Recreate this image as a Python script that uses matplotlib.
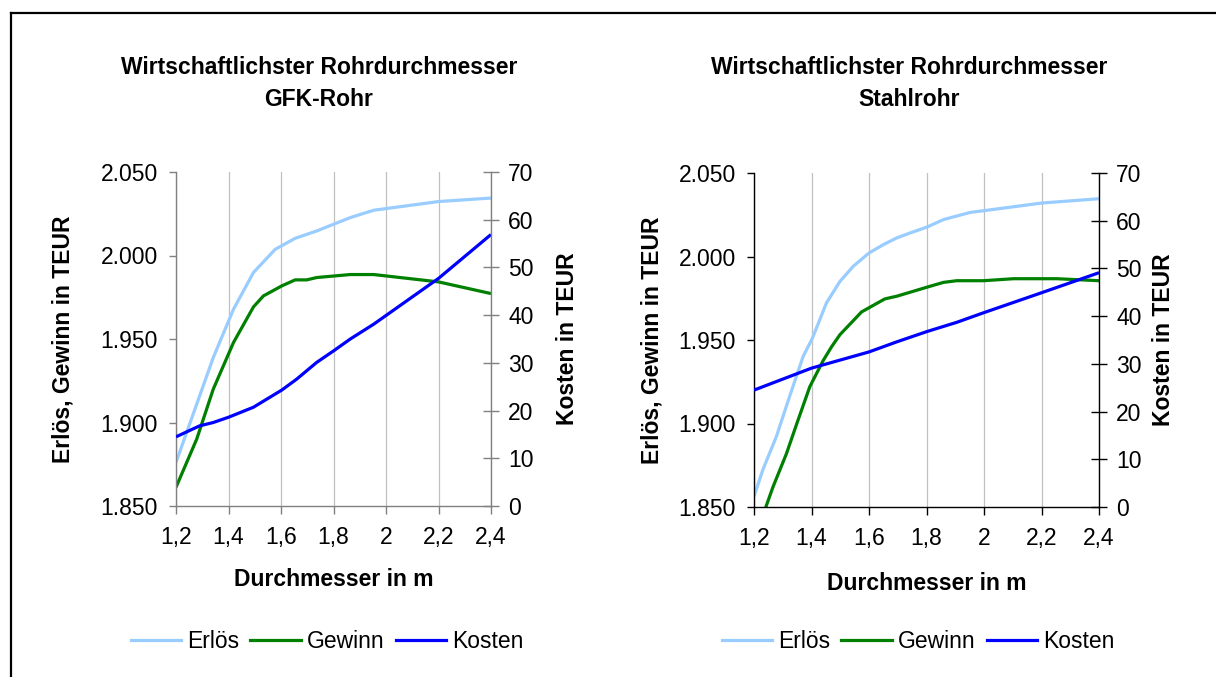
import matplotlib
matplotlib.use("Agg")
import matplotlib.pyplot as plt
from matplotlib.lines import Line2D

plt.rcParams['font.family'] = ['Liberation Sans', 'DejaVu Sans']

# ---- data -------------------------------------------------------------
x_ticks = [1.2, 1.4, 1.6, 1.8, 2.0, 2.2, 2.4]
x_tick_labels = ['1,2', '1,4', '1,6', '1,8', '2', '2,2', '2,4']
left_ticks = [1850, 1900, 1950, 2000, 2050]
left_tick_labels = ['1.850', '1.900', '1.950', '2.000', '2.050']
right_ticks = [0, 10, 20, 30, 40, 50, 60, 70]

# GFK pipe
gfk_erloes_x = [1.2, 1.342, 1.419, 1.495, 1.578, 1.654, 1.736, 1.80, 1.864, 1.953, 2.2, 2.4]
gfk_erloes_y = [1876.1, 1938.9, 1967.8, 1989.8, 2003.7, 2010.3, 2014.7, 2018.7, 2022.7, 2027.1, 2032.3, 2034.4]
gfk_gewinn_x = [1.2, 1.279, 1.342, 1.419, 1.495, 1.533, 1.603, 1.654, 1.698, 1.736, 1.864, 1.953, 2.2, 2.4]
gfk_gewinn_y = [1861.2, 1890.1, 1920.0, 1947.9, 1969.2, 1975.8, 1981.8, 1985.4, 1985.4, 1986.8, 1988.6, 1988.6, 1984.2, 1977.2]
gfk_kosten_x = [1.2, 1.29, 1.342, 1.4, 1.495, 1.603, 1.66, 1.736, 1.80, 1.864, 1.953, 2.2, 2.4]
gfk_kosten_y = [14.5, 16.8, 17.5, 18.6, 20.7, 24.3, 26.6, 30.1, 32.5, 35.0, 38.1, 47.7, 56.9]

# steel pipe
stahl_erloes_x = [1.2, 1.231, 1.278, 1.324, 1.371, 1.403, 1.452, 1.499, 1.545, 1.6, 1.65, 1.696, 1.743, 1.803, 1.859, 1.952, 1.998, 2.2, 2.4]
stahl_erloes_y = [1856.4, 1872.4, 1892.3, 1916.3, 1940.2, 1951.0, 1972.2, 1985.1, 1994.1, 2002.1, 2007.1, 2011.1, 2014.1, 2017.7, 2022.1, 2026.4, 2027.4, 2032.0, 2034.6]
stahl_gewinn_x = [1.2, 1.266, 1.313, 1.348, 1.394, 1.44, 1.47, 1.499, 1.574, 1.655, 1.696, 1.743, 1.803, 1.859, 1.905, 1.998, 2.103, 2.254, 2.4]
stahl_gewinn_y = [1830.0, 1862.0, 1882.0, 1899.5, 1922.0, 1937.5, 1946.0, 1953.2, 1966.8, 1974.6, 1976.2, 1978.6, 1981.7, 1984.5, 1985.5, 1985.5, 1986.7, 1986.7, 1985.5]
stahl_kosten_x = [1.2, 1.4, 1.6, 1.696, 1.803, 1.905, 1.998, 2.2, 2.4]
stahl_kosten_y = [24.5, 29.1, 32.5, 34.6, 36.8, 38.7, 40.7, 44.9, 49.1]

series_names = ['Erlös', 'Gewinn', 'Kosten']
series_colors = ['#99CCFF', '#008000', '#0000FF']

# ---- layout -----------------------------------------------------------
W, H = 1216, 677
FS = 16.5
fig = plt.figure(figsize=(W / 100, H / 100), dpi=100)


def fx(x):
    return x / W


def fy(y):
    return 1 - y / H


# outer frame (left and top edges)
fig.add_artist(Line2D([fx(10.5), fx(10.5)], [fy(12.5), 0], color='black', lw=1.6,
                      transform=fig.transFigure))
fig.add_artist(Line2D([fx(10.5), 1], [fy(12.5), fy(12.5)], color='black', lw=1.6,
                      transform=fig.transFigure))


def panel(rect, spine_color, erl, gew, kos, title2, cx, ylab_x, y2lab_x, xlab_y, leg_x):
    left, top, right, bottom = rect
    ax = fig.add_axes([fx(left), fy(bottom), (right - left) / W, (bottom - top) / H])
    ax2 = ax.twinx()

    ax.plot(erl[0], erl[1], color=series_colors[0], lw=2.3, solid_capstyle='butt')
    ax.plot(gew[0], gew[1], color=series_colors[1], lw=2.3, solid_capstyle='butt')
    ax2.plot(kos[0], kos[1], color=series_colors[2], lw=2.3, solid_capstyle='butt')

    ax.set_xlim(1.2, 2.4)
    ax.set_ylim(1850, 2050)
    ax2.set_ylim(0, 70)
    ax.set_xticks(x_ticks)
    ax.set_xticklabels(x_tick_labels)
    ax.set_yticks(left_ticks)
    ax.set_yticklabels(left_tick_labels)
    ax2.set_yticks(right_ticks)

    ax.xaxis.grid(True, color='#C0C0C0', lw=0.9)
    ax.set_axisbelow(True)

    for a in (ax, ax2):
        a.spines['top'].set_visible(False)
        for s in ('left', 'right', 'bottom'):
            a.spines[s].set_color(spine_color)
            a.spines[s].set_linewidth(1.0)
    ax.spines['right'].set_visible(False)
    ax2.spines['left'].set_visible(False)
    ax2.spines['bottom'].set_visible(False)

    ax.tick_params(axis='x', direction='out', length=5.5, width=1.0, color=spine_color,
                   labelsize=FS, pad=9)
    ax.tick_params(axis='y', direction='out', length=5.0, width=1.0, color=spine_color,
                   labelsize=FS, pad=8)
    ax2.tick_params(axis='y', direction='inout', length=11, width=1.0, color=spine_color,
                    labelsize=FS, pad=7)

    fig.text(fx(cx), fy(68), 'Wirtschaftlichster Rohrdurchmesser', ha='center', va='center',
             fontsize=FS, fontweight='bold')
    fig.text(fx(cx), fy(100), title2, ha='center', va='center', fontsize=FS, fontweight='bold')
    fig.text(fx(ylab_x), fy((top + bottom) / 2), 'Erlös, Gewinn in TEUR', rotation=90,
             ha='center', va='center', fontsize=FS, fontweight='bold')
    fig.text(fx(y2lab_x), fy((top + bottom) / 2), 'Kosten in TEUR', rotation=90,
             ha='center', va='center', fontsize=FS, fontweight='bold')
    fig.text(fx((left + right) / 2), fy(xlab_y), 'Durchmesser in m', ha='center', va='center',
             fontsize=FS, fontweight='bold')

    handles = [Line2D([], [], color=c, lw=2.3) for c in series_colors]
    fig.legend(handles, series_names, loc='center', bbox_to_anchor=(fx(leg_x), fy(642)),
               ncol=3, frameon=False, fontsize=FS, handlelength=2.2, handletextpad=0.25,
               columnspacing=0.5, borderpad=0, borderaxespad=0)


panel((176, 172, 491, 506), '#808080',
      (gfk_erloes_x, gfk_erloes_y), (gfk_gewinn_x, gfk_gewinn_y), (gfk_kosten_x, gfk_kosten_y),
      'GFK-Rohr', 319, 63, 567, 580, 327)
panel((754, 173, 1099, 507), 'black',
      (stahl_erloes_x, stahl_erloes_y), (stahl_gewinn_x, stahl_gewinn_y),
      (stahl_kosten_x, stahl_kosten_y),
      'Stahlrohr', 909, 652, 1163, 583, 918)

fig.savefig('out.png', dpi=100)
